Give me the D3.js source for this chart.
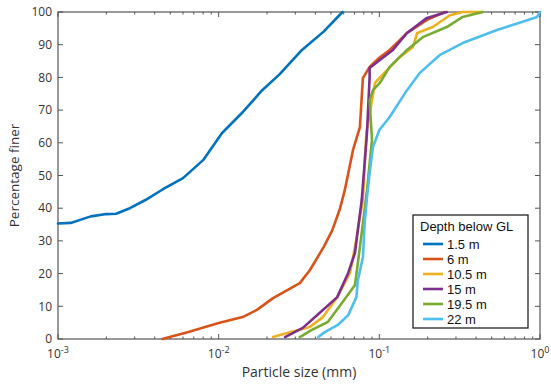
<!DOCTYPE html>
<meta charset="utf-8">
<style>
  body { margin: 0; background: #fff; }
  text { font-family: "Open Sans", sans-serif; fill: #333; }
  .line { fill: none; stroke-width: 2.6px; stroke-linejoin: round; stroke-linecap: round; }
  .legend text { font-family: "Liberation Sans", Arial, sans-serif; fill: #111; }
</style>
<body>
<div id="chart"></div>
<script src="https://d3js.org/d3.v7.min.js"></script>
<script>

// series: [particle size (mm), percentage finer]
var depthLabels = ["1.5 m", "6 m", "10.5 m", "15 m", "19.5 m", "22 m"];
var depthColors = ["#0072BD", "#D95319", "#EDB120", "#7E2F8E", "#77AC30", "#4DBEEE"];

var d1_5 = [[0.001,35.3],[0.0012,35.5],[0.0016,37.5],[0.002,38.2],[0.0023,38.3],[0.0028,40],
  [0.0035,42.5],[0.0045,45.8],[0.006,49.2],[0.008,54.7],[0.0105,63],[0.0142,69.5],[0.0186,76],
  [0.024,81],[0.033,88.4],[0.045,94],[0.059,100]];
var d6 = [[0.00445,0],[0.0064,2.1],[0.01,4.9],[0.0141,6.7],[0.0173,8.9],[0.0218,12.5],[0.032,17.1],
  [0.037,21.1],[0.045,28.1],[0.051,33.3],[0.057,40],[0.061,45.6],[0.0686,57.8],[0.0757,64.8],
  [0.079,79.8],[0.087,83.2],[0.1,86],[0.116,88.4],[0.149,93.6],[0.198,97.6],[0.255,100]];
var d10_5 = [[0.0218,0.6],[0.0278,2.1],[0.0369,3.7],[0.0446,6.7],[0.0547,12.8],[0.0657,20.2],
  [0.0705,28.1],[0.0757,37.3],[0.079,42.5],[0.083,63],[0.09,73],[0.094,78.3],[0.1,79.8],
  [0.134,86.2],[0.162,89.3],[0.172,93.6],[0.215,95.4],[0.275,99],[0.33,100],[0.44,100]];
var d15 = [[0.0259,0.6],[0.0334,3.4],[0.0426,8],[0.0547,12.8],[0.064,20.2],[0.0705,26.3],
  [0.0735,33.3],[0.0777,42.5],[0.0838,63],[0.087,80.1],[0.087,82.9],[0.1007,85.3],[0.1215,88.4],
  [0.1486,93.6],[0.198,98.2],[0.263,100]];
var d19_5 = [[0.032,0.6],[0.038,2.8],[0.0478,5.2],[0.0585,11],[0.0705,16.5],[0.0735,23.2],
  [0.0791,35.5],[0.0838,45.6],[0.09,60.9],[0.087,73],[0.0913,76.1],[0.1007,78.3],[0.116,83.2],
  [0.1486,88.4],[0.188,92.4],[0.263,95.4],[0.33,98.5],[0.44,100]];
var d22 = [[0.0417,0.6],[0.0457,2.1],[0.0552,4.3],[0.064,7.3],[0.072,12.8],[0.0735,18],
  [0.0791,25.1],[0.081,35.5],[0.0838,43.4],[0.087,50.8],[0.0913,58.7],[0.1,63.9],[0.116,67.9],
  [0.1486,76.1],[0.178,81.3],[0.237,86.8],[0.33,90.5],[0.54,94.5],[0.78,97],[0.96,98.5],[1,100]];
var series = [d1_5, d6, d10_5, d15, d19_5, d22];

var xTicks = [0.001, 0.01, 0.1, 1];
var xTickExp = ["-3", "-2", "-1", "0"];
var yTicks = [0, 10, 20, 30, 40, 50, 60, 70, 80, 90, 100];

var width = 551, height = 387;
var margin = {top: 12, right: 11, bottom: 48, left: 58};
var w = width - margin.left - margin.right,
    h = height - margin.top - margin.bottom;

var svg = d3.select("#chart").append("svg")
    .attr("width", width)
    .attr("height", height);

var g = svg.append("g")
    .attr("transform", "translate(" + margin.left + "," + margin.top + ")");

var x = d3.scaleLog().domain([0.001, 1]).range([0, w]);
var y = d3.scaleLinear().domain([0, 100]).range([h, 0]);

// minor ticks for x
var minor = [];
[0.001, 0.01, 0.1].forEach(function(dec) {
  for (var k = 2; k <= 9; k++) minor.push(dec * k);
});

var axisColor = "#555";

// tick marks (inward, on all four sides)
xTicks.forEach(function(t) {
  g.append("line").attr("x1", x(t)).attr("x2", x(t)).attr("y1", h).attr("y2", h - 5).attr("stroke", axisColor);
  g.append("line").attr("x1", x(t)).attr("x2", x(t)).attr("y1", 0).attr("y2", 5).attr("stroke", axisColor);
});
minor.forEach(function(t) {
  g.append("line").attr("x1", x(t)).attr("x2", x(t)).attr("y1", h).attr("y2", h - 2.5).attr("stroke", axisColor);
  g.append("line").attr("x1", x(t)).attr("x2", x(t)).attr("y1", 0).attr("y2", 2.5).attr("stroke", axisColor);
});
yTicks.forEach(function(t) {
  g.append("line").attr("x1", 0).attr("x2", 5).attr("y1", y(t)).attr("y2", y(t)).attr("stroke", axisColor);
  g.append("line").attr("x1", w).attr("x2", w - 5).attr("y1", y(t)).attr("y2", y(t)).attr("stroke", axisColor);
});

// box
g.append("rect")
    .attr("x", 0).attr("y", 0)
    .attr("width", w).attr("height", h)
    .attr("fill", "none")
    .attr("stroke", axisColor)
    .attr("stroke-width", 1.2);

// y tick labels
g.selectAll(".ylab")
  .data(yTicks)
  .enter().append("text")
    .attr("x", -6)
    .attr("y", function(d) { return y(d); })
    .attr("dy", "0.35em")
    .attr("text-anchor", "end")
    .style("font-size", "12px")
    .text(function(d) { return d; });

// x tick labels 10^n
xTicks.forEach(function(t, i) {
  var tx = g.append("text")
      .attr("x", x(t))
      .attr("y", h + 19)
      .attr("text-anchor", "middle")
      .style("font-size", "12px");
  tx.append("tspan").text("10");
  tx.append("tspan").attr("dy", "-5").style("font-size", "9px").text(xTickExp[i]);
});

// axis titles
svg.append("text")
    .attr("x", margin.left + w / 2)
    .attr("y", 377)
    .attr("text-anchor", "middle")
    .style("font-size", "14px")
    .text("Particle size (mm)");

svg.append("text")
    .attr("transform", "translate(19," + (margin.top + h / 2) + ") rotate(-90)")
    .attr("text-anchor", "middle")
    .style("font-size", "13.5px")
    .text("Percentage finer");

// curves
var line = d3.line()
    .x(function(d) { return x(d[0]); })
    .y(function(d) { return y(d[1]); });

g.selectAll(".line")
  .data(series)
  .enter().append("path")
    .attr("class", "line")
    .attr("stroke", function(d, i) { return depthColors[i]; })
    .attr("d", line);

// legend
var leg = svg.append("g").attr("class", "legend").attr("transform", "translate(413,215)");
leg.append("rect")
    .attr("width", 115).attr("height", 113)
    .attr("fill", "#fff")
    .attr("stroke", "#222")
    .attr("stroke-width", 1.3);
leg.append("text")
    .attr("x", 7).attr("y", 16)
    .style("font-size", "13px")
    .text("Depth below GL");

var items = leg.selectAll(".item")
  .data(depthLabels)
  .enter().append("g")
    .attr("transform", function(d, i) { return "translate(0," + (29 + i * 15) + ")"; });
items.append("line")
    .attr("x1", 10).attr("x2", 30)
    .attr("stroke-width", 2.6)
    .attr("stroke", function(d, i) { return depthColors[i]; });
items.append("text")
    .attr("x", 34)
    .attr("dy", "0.35em")
    .style("font-size", "13px")
    .text(function(d) { return d; });

</script>
</body>
